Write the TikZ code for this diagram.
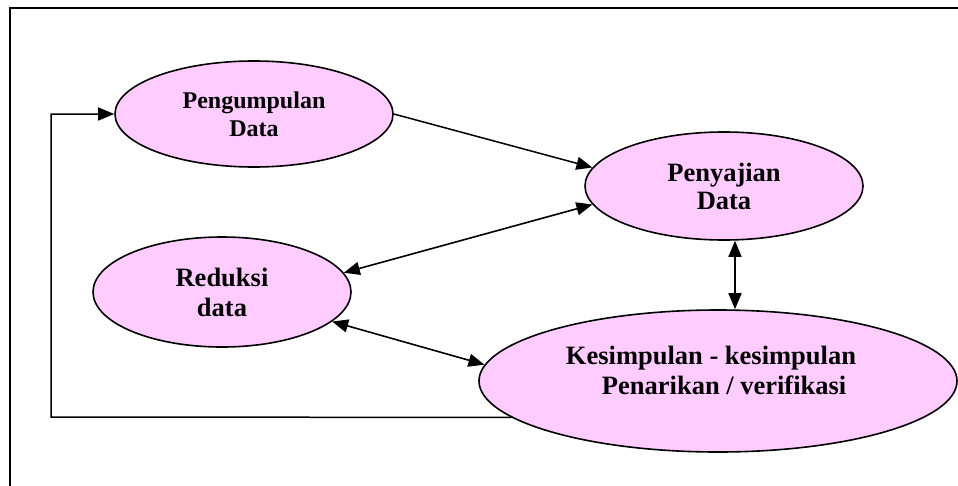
\documentclass[tikz,border=0pt]{standalone}
\usepackage{fontspec}
\setmainfont{Liberation Serif}
\usetikzlibrary{shapes.geometric,arrows.meta,calc}
\definecolor{pinkfill}{HTML}{FFCCFF}
\begin{document}
\begin{tikzpicture}[x=1pt,y=-1pt,
  bubble/.style={ellipse,draw,line width=1.6pt,fill=pinkfill,inner sep=0pt,align=center,font=\bfseries\fontsize{26.5}{30}\selectfont},
  conn/.style={line width=1.5pt,-{Triangle[length=16pt,width=13pt]}},
  biconn/.style={line width=1.6pt,{Triangle[length=16pt,width=13pt]}-{Triangle[length=16pt,width=13pt]}},
  frameline/.style={line width=2pt}]
\useasboundingbox (0,0) rectangle (958,485);
\fill[white] (0,0) rectangle (958,485);
\draw[frameline] (9.5,495) -- (9.5,7.5) -- (970,7.5);
\node[bubble,minimum width=278pt,minimum height=106pt,font=\bfseries\fontsize{24}{28}\selectfont] (pen) at (254,114) {Pengumpulan\\Data};
\node[bubble,minimum width=278pt,minimum height=108pt,font=\bfseries\fontsize{26.5}{28}\selectfont] (saj) at (724,186) {Penyajian\\Data};
\node[bubble,minimum width=258pt,minimum height=110pt] (red) at (222,292) {Reduksi\\data};
\node[bubble,minimum width=478pt,minimum height=142pt] (kes) at (718,381) {};
\node[inner sep=0pt,align=left,font=\bfseries\fontsize{26.5}{30}\selectfont] (kestext) at (711,370) {Kesimpulan - kesimpulan\\\hspace*{36pt}Penarikan / verifikasi};
\draw[conn] (pen.east) -- (saj.172);
\draw[biconn] (saj.188) -- (red.9);
\draw[biconn] (red.-15) -- (kes.176);
\draw[biconn] ([xshift=11pt]saj.south) -- ([xshift=17pt]kes.north);
\coordinate (fb) at (51,417);
\draw[conn] (kes.190) -- (fb) |- (pen.west);
\end{tikzpicture}
\end{document}
